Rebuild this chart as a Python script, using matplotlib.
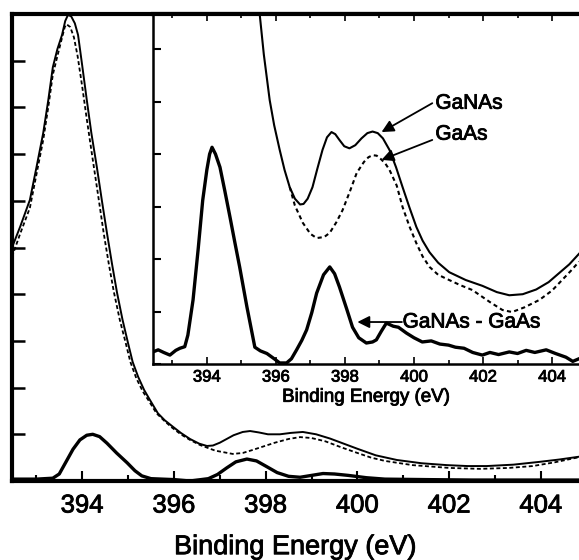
import matplotlib
matplotlib.use("Agg")
import matplotlib.pyplot as plt
import matplotlib.patheffects as pe
from matplotlib.ticker import MultipleLocator, NullFormatter

plt.rcParams['font.family'] = ['Liberation Sans', 'DejaVu Sans']

# ---------------- main panel data ----------------
main_ganas_x = [392.47, 392.65, 392.86, 393.00, 393.15, 393.26, 393.36, 393.46, 393.56, 393.63,
                393.69, 393.76, 393.84, 393.91, 394.00, 394.10, 394.20, 394.32, 394.43, 394.54,
                394.65, 394.76, 394.88, 395.00, 395.10, 395.22, 395.35, 395.48, 395.65, 395.80,
                395.98, 396.15, 396.35, 396.55, 396.72, 396.85, 397.00, 397.15, 397.30, 397.50,
                397.66, 397.85, 398.05, 398.31, 398.55, 398.81, 399.10, 399.40, 399.70, 400.00,
                400.40, 400.86, 401.40, 401.95, 402.40, 402.82, 403.40, 403.97, 404.40, 404.83]
main_ganas_y = [5.00, 5.45, 6.02, 6.70, 7.45, 8.15, 8.86, 9.25, 9.55, 9.85,
                9.98, 9.95, 9.80, 9.55, 8.90, 8.16, 7.45, 6.72, 6.00, 5.31,
                4.65, 4.03, 3.45, 2.95, 2.55, 2.23, 1.95, 1.73, 1.45, 1.30,
                1.16, 1.03, 0.90, 0.80, 0.75, 0.76, 0.82, 0.90, 0.98, 1.05,
                1.07, 1.04, 1.00, 1.00, 1.03, 1.05, 1.00, 0.91, 0.80, 0.69,
                0.55, 0.45, 0.38, 0.34, 0.32, 0.32, 0.35, 0.41, 0.46, 0.52]

main_gaas_x = [392.47, 392.65, 392.86, 393.00, 393.15, 393.26, 393.36, 393.46, 393.55, 393.62,
               393.66, 393.74, 393.82, 393.90, 394.00, 394.10, 394.22, 394.35, 394.47, 394.58,
               394.69, 394.82, 394.95, 395.05, 395.18, 395.32, 395.45, 395.62, 395.80, 395.95,
               396.15, 396.35, 396.57, 396.90, 397.28, 397.50, 397.70, 397.95, 398.20, 398.50,
               398.75, 399.00, 399.30, 399.65, 400.00, 400.30, 400.60, 401.20, 402.00, 402.67,
               403.30, 403.82, 404.30, 404.83]
main_gaas_y = [4.80, 5.30, 5.85, 6.55, 7.30, 8.00, 8.70, 9.10, 9.45, 9.72,
               9.78, 9.72, 9.50, 9.10, 8.45, 7.75, 6.95, 6.10, 5.30, 4.65,
               4.05, 3.45, 2.95, 2.55, 2.20, 1.92, 1.72, 1.45, 1.28, 1.15,
               1.00, 0.88, 0.77, 0.65, 0.58, 0.60, 0.66, 0.74, 0.82, 0.90,
               0.94, 0.92, 0.85, 0.72, 0.60, 0.50, 0.43, 0.34, 0.28, 0.26,
               0.28, 0.32, 0.40, 0.51]

main_diff_x = [392.47, 393.00, 393.36, 393.50, 393.67, 393.80, 393.95, 394.10, 394.23, 394.38,
               394.54, 394.75, 394.98, 395.15, 395.30, 395.50, 396.00, 396.35, 396.75, 396.95,
               397.15, 397.35, 397.59, 397.80, 398.00, 398.25, 398.50, 398.75, 399.00, 399.25,
               399.50, 399.80, 400.20, 400.60, 401.50, 402.50, 403.50, 404.83]
main_diff_y = [0.04, 0.04, 0.06, 0.15, 0.45, 0.68, 0.88, 0.98, 1.00, 0.95,
               0.81, 0.60, 0.39, 0.22, 0.11, 0.05, 0.03, 0.00, 0.05, 0.14,
               0.28, 0.41, 0.47, 0.43, 0.32, 0.18, 0.10, 0.08, 0.12, 0.16,
               0.15, 0.12, 0.07, 0.04, 0.03, 0.02, 0.02, 0.02]

# ---------------- inset data ----------------
ins_ganas_x = [395.35, 395.45, 395.53, 395.65, 395.82, 395.95, 396.11, 396.25, 396.40, 396.55,
               396.70, 396.80, 396.92, 397.06, 397.20, 397.35, 397.48, 397.61, 397.72, 397.84,
               397.98, 398.13, 398.30, 398.48, 398.65, 398.80, 398.95, 399.10, 399.29, 399.48,
               399.67, 399.87, 400.07, 400.25, 400.45, 400.70, 401.02, 401.50, 401.98, 402.40,
               402.76, 403.15, 403.54, 403.90, 404.20, 404.50, 404.78]
ins_ganas_y = [7.70, 7.10, 6.67, 5.90, 5.03, 4.55, 4.08, 3.70, 3.37, 3.15,
               3.04, 3.05, 3.15, 3.37, 3.72, 4.08, 4.32, 4.42, 4.38, 4.27,
               4.15, 4.11, 4.17, 4.30, 4.40, 4.43, 4.40, 4.30, 4.08, 3.75,
               3.37, 2.98, 2.61, 2.35, 2.13, 1.93, 1.75, 1.60, 1.49, 1.37,
               1.31, 1.33, 1.42, 1.56, 1.73, 1.90, 2.10]

ins_gaas_x = [396.40, 396.55, 396.78, 397.00, 397.18, 397.40, 397.56, 397.75, 397.93, 398.15,
              398.34, 398.55, 398.68, 398.80, 398.92, 399.05, 399.17, 399.29, 399.50, 399.67,
              399.87, 400.07, 400.25, 400.45, 400.70, 401.02, 401.35, 401.69, 402.20, 402.56,
              402.84, 403.20, 403.63, 404.00, 404.29, 404.55, 404.78]
ins_gaas_y = [3.37, 3.02, 2.69, 2.48, 2.40, 2.42, 2.50, 2.70, 2.93, 3.30,
              3.64, 3.85, 3.94, 3.98, 3.97, 3.90, 3.82, 3.70, 3.40, 2.99,
              2.62, 2.30, 2.05, 1.85, 1.70, 1.60, 1.50, 1.41, 1.18, 1.03,
              0.99, 1.08, 1.22, 1.40, 1.60, 1.78, 1.95]

ins_diff_x = [392.44, 392.59, 392.75, 392.93, 393.10, 393.22, 393.36, 393.45, 393.60, 393.75,
              393.88, 394.00, 394.08, 394.15, 394.25, 394.38, 394.52, 394.67, 394.81, 394.95,
              395.16, 395.39, 395.55, 395.74, 395.95, 396.11, 396.31, 396.45, 396.60, 396.75,
              396.89, 397.04, 397.18, 397.38, 397.56, 397.70, 397.84, 398.05, 398.22, 398.40,
              398.62, 398.80, 398.91, 399.05, 399.20, 399.40, 399.55, 399.78, 400.00, 400.24,
              400.50, 400.75, 401.00, 401.20, 401.45, 401.70, 401.98, 402.20, 402.45, 402.76,
              403.00, 403.25, 403.50, 403.83, 404.10, 404.40, 404.60, 404.78]
ins_diff_y = [0.23, 0.27, 0.22, 0.17, 0.26, 0.30, 0.33, 0.55, 1.22, 2.20,
              3.12, 3.70, 4.00, 4.13, 4.00, 3.75, 3.30, 2.80, 2.32, 1.85,
              1.09, 0.32, 0.25, 0.20, 0.10, 0.02, 0.02, 0.10, 0.27, 0.45,
              0.65, 0.98, 1.35, 1.70, 1.85, 1.72, 1.47, 1.05, 0.70, 0.50,
              0.40, 0.42, 0.46, 0.62, 0.78, 0.72, 0.70, 0.59, 0.50, 0.42,
              0.44, 0.38, 0.36, 0.32, 0.30, 0.22, 0.17, 0.22, 0.18, 0.23,
              0.20, 0.26, 0.22, 0.27, 0.20, 0.13, 0.05, 0.10]

main_xticks = [394, 396, 398, 400, 402, 404]
xlabel = "Binding Energy (eV)"
label_ganas = "GaNAs"
label_gaas = "GaAs"
label_diff = "GaNAs - GaAs"

W, H = 579, 560
fig = plt.figure(figsize=(W / 100, H / 100), dpi=100)
thick = [pe.withStroke(linewidth=0.6, foreground='black')]

def fx(px):
    return px / W

def fy(py):
    return 1 - py / H

# main axes: left 12px, top 14px, bottom 481px, right = figure edge
ax = fig.add_axes([fx(12), fy(481), fx(579 - 12), (481 - 14) / H])
ax.plot(main_gaas_x, main_gaas_y, color='black', lw=1.3, ls=(0, (2.2, 1.4)))
ax.plot(main_ganas_x, main_ganas_y, color='black', lw=1.4)
ax.plot(main_diff_x, main_diff_y, color='black', lw=2.4)
ax.set_xlim(392.47, 404.83)
ax.set_ylim(0, 10)
ax.set_xticks(main_xticks)
ax.xaxis.set_minor_locator(MultipleLocator(1))
ax.yaxis.set_major_locator(MultipleLocator(1))
ax.yaxis.set_major_formatter(NullFormatter())
ax.tick_params(axis='x', which='major', direction='in', length=7, width=1.5,
               labelsize=18.5, pad=9)
ax.tick_params(axis='x', which='minor', direction='in', length=4, width=1.5)
ax.tick_params(axis='y', which='major', direction='in', length=9, width=1.8)
ax.spines['right'].set_visible(False)
for s in ['left', 'bottom', 'top']:
    ax.spines[s].set_linewidth(3)
ax.set_xlabel(xlabel, fontsize=19.5, labelpad=12)
ax.xaxis.label.set_path_effects(thick)
for t in ax.get_xticklabels():
    t.set_path_effects(thick)

# inset axes: left 153px, top 14px, bottom 364px, right = figure edge
axi = fig.add_axes([fx(153), fy(364), fx(579 - 153), (364 - 14) / H])
axi.set_facecolor('white')
axi.plot(ins_gaas_x, ins_gaas_y, color='black', lw=1.5, ls=(0, (2.0, 1.6)))
axi.plot(ins_ganas_x, ins_ganas_y, color='black', lw=1.5)
axi.plot(ins_diff_x, ins_diff_y, color='black', lw=2.4)
axi.set_xlim(392.44, 404.78)
axi.set_ylim(0, 6.67)
axi.set_xticks(main_xticks)
axi.xaxis.set_minor_locator(MultipleLocator(1))
axi.yaxis.set_major_locator(MultipleLocator(1))
axi.yaxis.set_major_formatter(NullFormatter())
axi.tick_params(axis='x', which='major', direction='in', length=5, width=1.2,
                top=True, labelsize=12, pad=4)
axi.tick_params(axis='x', which='minor', direction='in', length=3, width=1.2, top=True)
axi.tick_params(axis='y', which='major', direction='in', length=6, width=1.5)
axi.spines['right'].set_visible(False)
for s in ['left', 'bottom']:
    axi.spines[s].set_linewidth(1.8)
axi.spines['top'].set_linewidth(3)
axi.set_xlabel(xlabel, fontsize=13.5, labelpad=3)
axi.xaxis.label.set_path_effects(thick)
for t in axi.get_xticklabels():
    t.set_path_effects(thick)

arrow = dict(arrowstyle='-|>', color='black', lw=1.3, mutation_scale=18, shrinkA=0, shrinkB=0)
axi.annotate('', xy=(399.06, 4.42), xytext=(400.53, 4.97), arrowprops=arrow)
axi.text(400.62, 4.97, label_ganas, fontsize=15, va='center', ha='left', path_effects=thick)
axi.annotate('', xy=(399.06, 3.89), xytext=(400.53, 4.27), arrowprops=arrow)
axi.text(400.62, 4.38, label_gaas, fontsize=15, va='center', ha='left', path_effects=thick)
axi.annotate('', xy=(398.36, 0.80), xytext=(399.65, 0.80), arrowprops=arrow)
axi.text(399.67, 0.80, label_diff, fontsize=15, va='center', ha='left', path_effects=thick)

fig.savefig('out.png', dpi=100)
